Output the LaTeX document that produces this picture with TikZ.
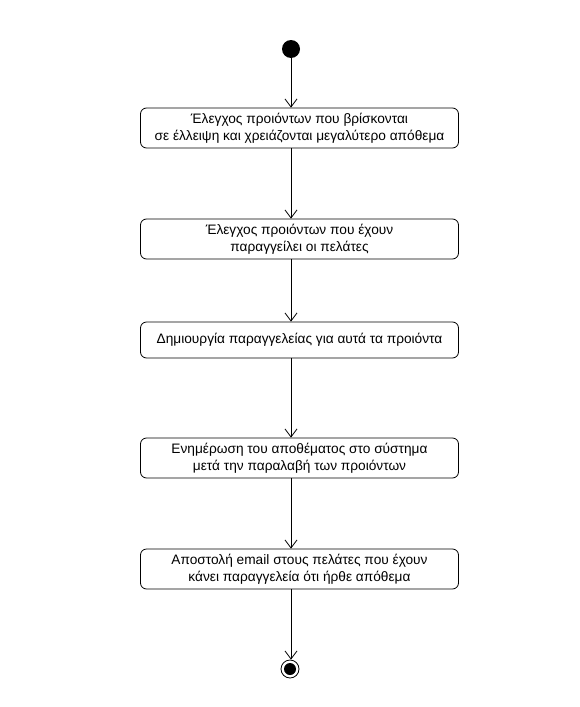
\documentclass[tikz,border=0pt]{standalone}
\usepackage{fontspec}
\setmainfont{Liberation Sans}
\usetikzlibrary{arrows.meta}
\begin{document}
\begin{tikzpicture}[x=1pt,y=-1pt,
  action/.style={draw, rounded corners=6pt, line width=0.8pt, minimum width=318pt,
    minimum height=40pt, align=center, inner sep=2pt, font=\fontsize{13.7}{17}\selectfont},
  flow/.style={-{Straight Barb[length=8pt,width=12pt,line width=0.8pt]}, line width=0.8pt}]
\useasboundingbox (0,0) rectangle (580,707);
\node[circle, fill=black, minimum size=18pt, inner sep=0pt] (start) at (291,49) {};
\node[action] (a1) at (299.5,128) {Έλεγχος προιόντων που βρίσκονται\\σε έλλειψη και χρειάζονται μεγαλύτερο απόθεμα};
\node[action] (a2) at (299.5,239) {Έλεγχος προιόντων που έχουν\\παραγγείλει οι πελάτες};
\node[action, minimum height=36pt] (a3) at (299.5,340) {Δημιουργία παραγγελείας για αυτά τα προιόντα};
\node[action] (a4) at (299.5,458) {Ενημέρωση του αποθέματος στο σύστημα\\μετά την παραλαβή των προιόντων};
\node[action] (a5) at (299.5,569) {Αποστολή email στους πελάτες που έχουν\\κάνει παραγγελεία ότι ήρθε απόθεμα};
\node[circle, draw, line width=0.8pt, minimum size=18pt, inner sep=0pt] (end) at (290,669) {};
\fill (end.center) circle (6pt);
\draw[flow] (start) -- (start |- a1.north);
\draw[flow] (a1.south -| start) -- (start |- a2.north);
\draw[flow] (a2.south -| start) -- (start |- a3.north);
\draw[flow] (a3.south -| start) -- (start |- a4.north);
\draw[flow] (a4.south -| start) -- (start |- a5.north);
\draw[flow] (a5.south -| start) -- (end.north -| start);
\end{tikzpicture}
\end{document}
